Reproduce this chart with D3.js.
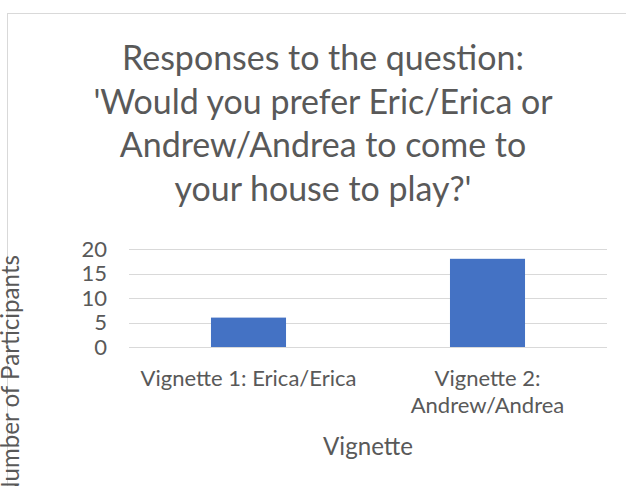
<!DOCTYPE html>
<html><head><meta charset="utf-8">
<script src="https://cdn.jsdelivr.net/npm/d3@7"></script>
<style>body{margin:0;background:#fff;}svg{display:block;}</style>
</head><body>
<script>
const categories = [["Vignette 1: Erica/Erica"], ["Vignette 2:", "Andrew/Andrea"]];
const values = [6, 18];
const yTicks = [0, 5, 10, 15, 20];
const titleLines = ["Responses to the question:", "'Would you prefer Eric/Erica or", "Andrew/Andrea to come to", "your house to play?'"];
const xTitle = "Vignette";
const yTitle = "Number of Participants";

const W = 626, H = 486;
const font = "Lato, 'Open Sans', sans-serif";
const txt = "#595959";
const svg = d3.select("body").append("svg").attr("width", W).attr("height", H);

function fitSize(text, target) {
  const t = svg.append("text").attr("font-family", font).attr("font-size", 100).text(text);
  const w = t.node().getComputedTextLength();
  t.remove();
  return 100 * target / w;
}
const titleSize = fitSize(titleLines[0], 402);
const labelSize = fitSize(categories[0][0], 216);
const axisTitleSize = fitSize(xTitle, 90);

svg.append("rect").attr("x", 7.5).attr("y", 13.5).attr("width", 700).attr("height", 600)
  .attr("fill", "#fff").attr("stroke", "#d9d9d9").attr("stroke-width", 1);

const plot = {l: 129, r: 607, t: 249, b: 347};
const x = d3.scaleBand().domain(d3.range(categories.length)).range([plot.l, plot.r])
  .paddingInner(0.686).paddingOuter(0.343);
const y = d3.scaleLinear().domain([0, 20]).range([plot.b, plot.t]);

svg.append("g").selectAll("line").data(yTicks).join("line")
  .attr("x1", plot.l).attr("x2", plot.r)
  .attr("y1", d => Math.round(y(d)) + 0.5).attr("y2", d => Math.round(y(d)) + 0.5)
  .attr("stroke", "#d9d9d9").attr("stroke-width", 1);

svg.append("g").selectAll("text").data(yTicks).join("text")
  .attr("x", 107).attr("y", d => y(d)).attr("dy", "0.36em")
  .attr("text-anchor", "end").attr("font-family", font).attr("font-size", labelSize).attr("fill", txt)
  .text(d => d);

svg.append("g").selectAll("rect").data(values).join("rect")
  .attr("x", (d, i) => x(i)).attr("width", x.bandwidth())
  .attr("y", d => y(d)).attr("height", d => y(0) - y(d))
  .attr("fill", "#4472c4");

const cat = svg.append("g").selectAll("text").data(categories).join("text")
  .attr("text-anchor", "middle").attr("font-family", font).attr("font-size", labelSize).attr("fill", txt)
  .attr("y", 386);
cat.each(function(lines, i) {
  d3.select(this).selectAll("tspan").data(lines).join("tspan")
    .attr("x", x(i) + x.bandwidth() / 2).attr("dy", (d, j) => j === 0 ? 0 : 27).text(d => d);
});

svg.append("text").attr("x", 368).attr("y", 455).attr("text-anchor", "middle")
  .attr("font-family", font).attr("font-size", axisTitleSize).attr("fill", txt).text(xTitle);

svg.append("text").attr("transform", "translate(19,255) rotate(-90)").attr("text-anchor", "end")
  .attr("font-family", font).attr("font-size", axisTitleSize).attr("fill", txt).text(yTitle);

svg.append("g").selectAll("text").data(titleLines).join("text")
  .attr("x", 323).attr("y", (d, i) => 70 + i * 43.5).attr("text-anchor", "middle")
  .attr("font-family", font).attr("font-size", titleSize).attr("fill", txt).text(d => d);
</script>
</body></html>
